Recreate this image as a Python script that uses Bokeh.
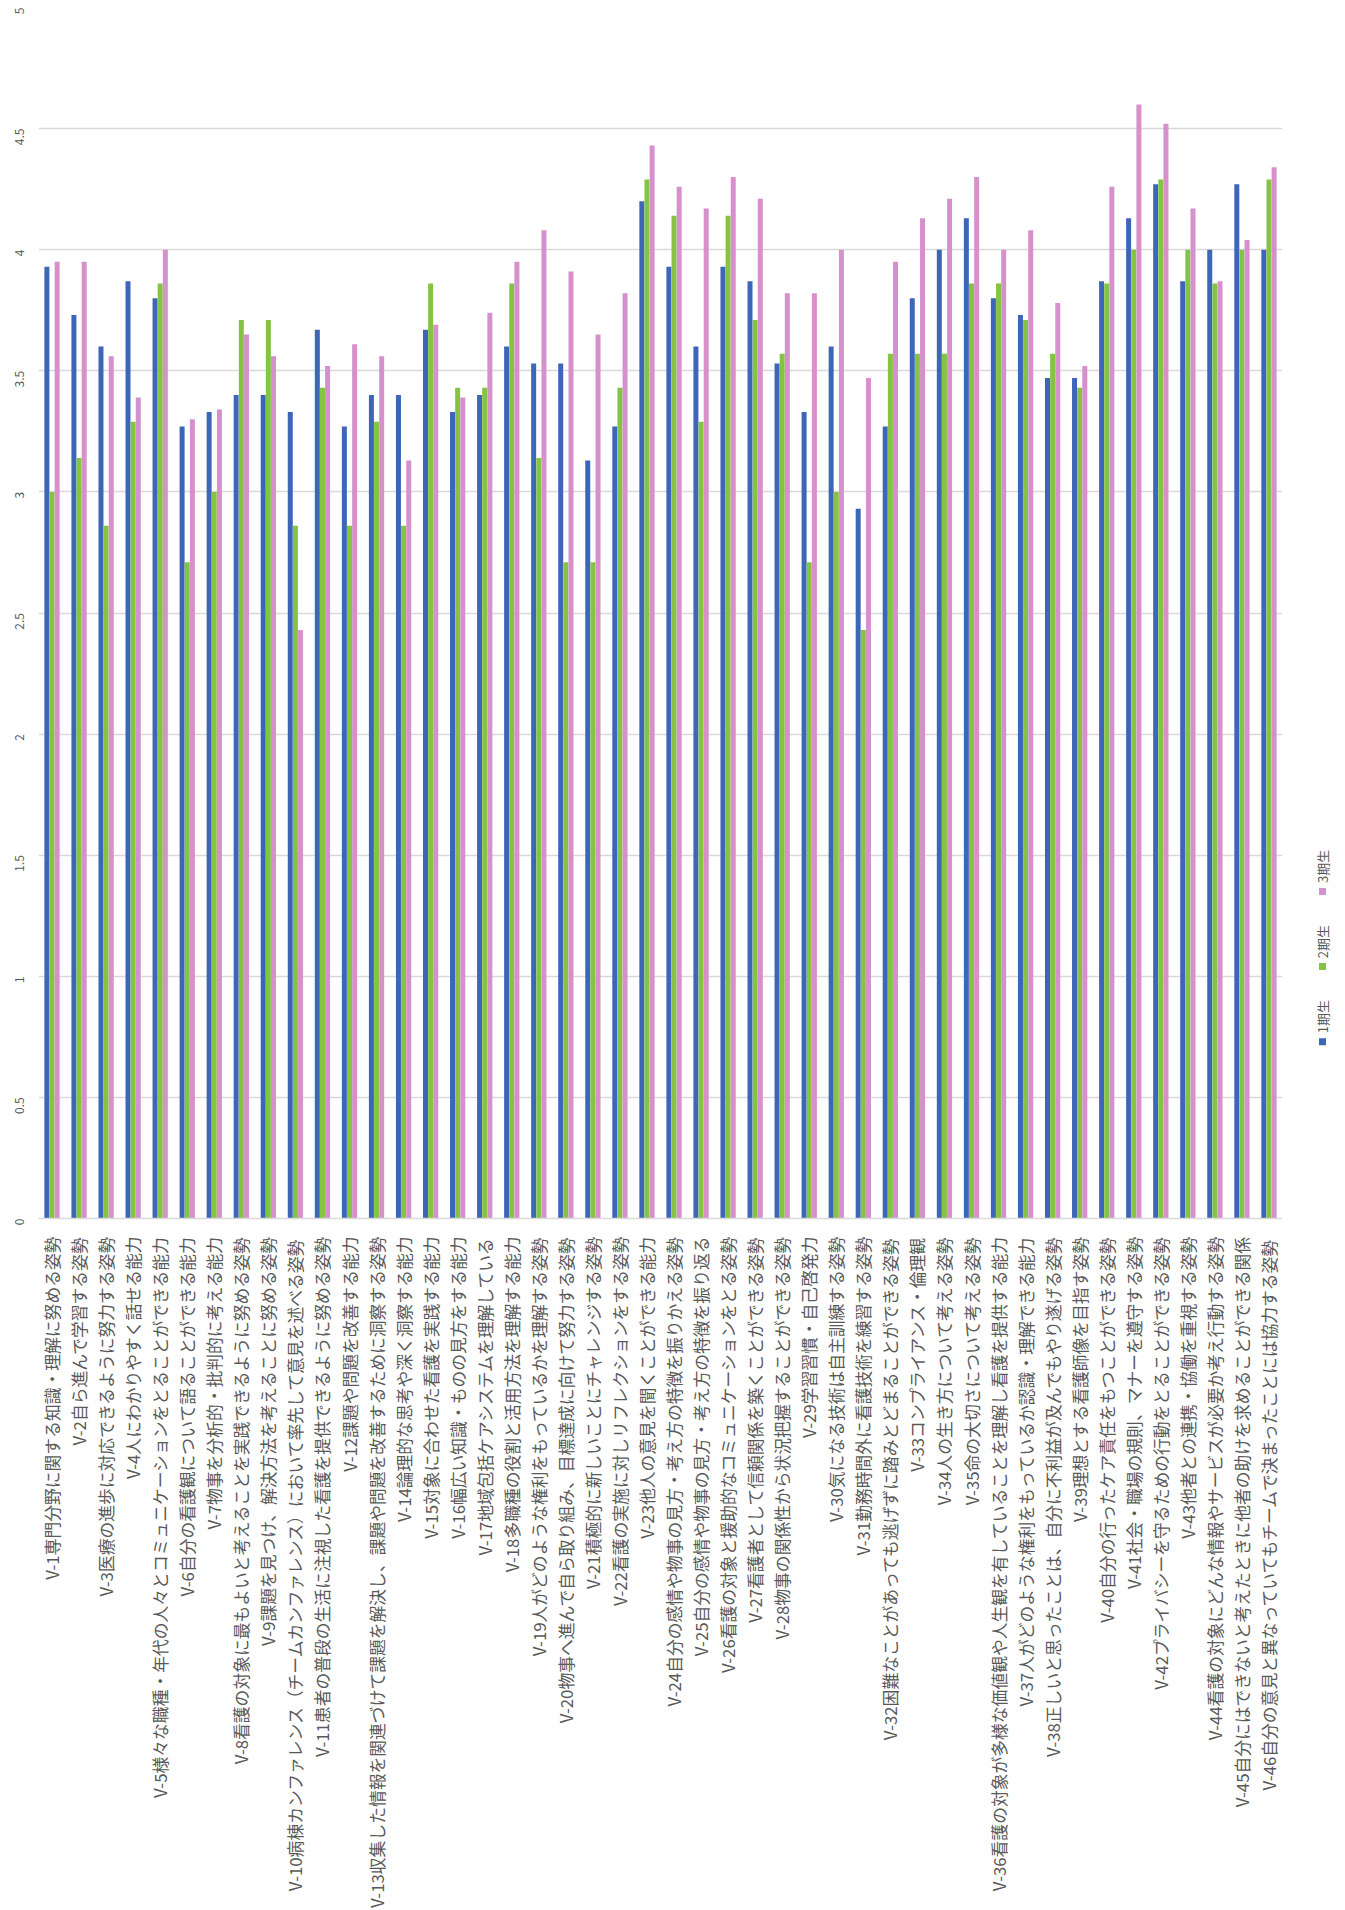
import math
from bokeh.plotting import figure
from bokeh.models import FactorRange, Range1d, FixedTicker, CustomJSTickFormatter, ColumnDataSource
from bokeh.transform import dodge
from bokeh.layouts import row
from bokeh.embed import file_html
from bokeh.resources import INLINE
from bokeh.core.properties import value

categories = [
    "V-1専門分野に関する知識・理解に努める姿勢",
    "V-2自ら進んで学習する姿勢",
    "V-3医療の進歩に対応できるように努力する姿勢",
    "V-4人にわかりやすく話せる能力",
    "V-5様々な職種・年代の人々とコミュニケーションをとることができる能力",
    "V-6自分の看護観について語ることができる能力",
    "V-7物事を分析的・批判的に考える能力",
    "V-8看護の対象に最もよいと考えることを実践できるように努める姿勢",
    "V-9課題を見つけ、解決方法を考えることに努める姿勢",
    "V-10病棟カンファレンス（チームカンファレンス）において率先して意見を述べる姿勢",
    "V-11患者の普段の生活に注視した看護を提供できるように努める姿勢",
    "V-12課題や問題を改善する能力",
    "V-13収集した情報を関連づけて課題を解決し、課題や問題を改善するために洞察する姿勢",
    "V-14論理的な思考や深く洞察する能力",
    "V-15対象に合わせた看護を実践する能力",
    "V-16幅広い知識・ものの見方をする能力",
    "V-17地域包括ケアシステムを理解している",
    "V-18多職種の役割と活用方法を理解する能力",
    "V-19人がどのような権利をもっているかを理解する姿勢",
    "V-20物事へ進んで自ら取り組み、目標達成に向けて努力する姿勢",
    "V-21積極的に新しいことにチャレンジする姿勢",
    "V-22看護の実施に対しリフレクションをする姿勢",
    "V-23他人の意見を聞くことができる能力",
    "V-24自分の感情や物事の見方・考え方の特徴を振りかえる姿勢",
    "V-25自分の感情や物事の見方・考え方の特徴を振り返る",
    "V-26看護の対象と援助的なコミュニケーションをとる姿勢",
    "V-27看護者として信頼関係を築くことができる姿勢",
    "V-28物事の関係性から状況把握することができる姿勢",
    "V-29学習習慣・自己啓発力",
    "V-30気になる技術は自主訓練する姿勢",
    "V-31勤務時間外に看護技術を練習する姿勢",
    "V-32困難なことがあっても逃げずに踏みとどまることができる姿勢",
    "V-33コンプライアンス・倫理観",
    "V-34人の生き方について考える姿勢",
    "V-35命の大切さについて考える姿勢",
    "V-36看護の対象が多様な価値観や人生観を有していることを理解し看護を提供する能力",
    "V-37人がどのような権利をもっているか認識・理解できる能力",
    "V-38正しいと思ったことは、自分に不利益が及んでもやり遂げる姿勢",
    "V-39理想とする看護師像を目指す姿勢",
    "V-40自分の行ったケア責任をもつことができる姿勢",
    "V-41社会・職場の規則、マナーを遵守する姿勢",
    "V-42プライバシーを守るための行動をとることができる姿勢",
    "V-43他者との連携・協働を重視する姿勢",
    "V-44看護の対象にどんな情報やサービスが必要か考え行動する姿勢",
    "V-45自分にはできないと考えたときに他者の助けを求めることができる関係",
    "V-46自分の意見と異なっていてもチームで決まったことには協力する姿勢",
]

gen1 = [3.93, 3.73, 3.60, 3.87, 3.80, 3.27, 3.33, 3.40, 3.40, 3.33,
        3.67, 3.27, 3.40, 3.40, 3.67, 3.33, 3.40, 3.60, 3.53, 3.53,
        3.13, 3.27, 4.20, 3.93, 3.60, 3.93, 3.87, 3.53, 3.33, 3.60,
        2.93, 3.27, 3.80, 4.00, 4.13, 3.80, 3.73, 3.47, 3.47, 3.87,
        4.13, 4.27, 3.87, 4.00, 4.27, 4.00]
gen2 = [3.00, 3.14, 2.86, 3.29, 3.86, 2.71, 3.00, 3.71, 3.71, 2.86,
        3.43, 2.86, 3.29, 2.86, 3.86, 3.43, 3.43, 3.86, 3.14, 2.71,
        2.71, 3.43, 4.29, 4.14, 3.29, 4.14, 3.71, 3.57, 2.71, 3.00,
        2.43, 3.57, 3.57, 3.57, 3.86, 3.86, 3.71, 3.57, 3.43, 3.86,
        4.00, 4.29, 4.00, 3.86, 4.00, 4.29]
gen3 = [3.95, 3.95, 3.56, 3.39, 4.00, 3.30, 3.34, 3.65, 3.56, 2.43,
        3.52, 3.61, 3.56, 3.13, 3.69, 3.39, 3.74, 3.95, 4.08, 3.91,
        3.65, 3.82, 4.43, 4.26, 4.17, 4.30, 4.21, 3.82, 3.82, 4.00,
        3.47, 3.95, 4.13, 4.21, 4.30, 4.00, 4.08, 3.78, 3.52, 4.26,
        4.60, 4.52, 4.17, 3.87, 4.04, 4.34]

series_names = ["1期生", "2期生", "3期生"]
y_ticks = [0, 0.5, 1, 1.5, 2, 2.5, 3, 3.5, 4, 4.5, 5]

colors = ["#3D66B8", "#85C443", "#D690CB"]
W_MAIN = 1282
W_LEG = 55
H = 1910
LEFT = 38
TOP = 7

src = ColumnDataSource(dict(cat=categories, g1=gen1, g2=gen2, g3=gen3))

p = figure(x_range=FactorRange(factors=categories), y_range=Range1d(0, 5),
           width=W_MAIN, height=H, output_backend="svg", toolbar_location=None,
           min_border_left=LEFT, min_border_right=0, min_border_top=TOP, min_border_bottom=0)

offsets = [-0.19, 0.0, 0.19]
for col, off, c in zip(["g1", "g2", "g3"], offsets, colors):
    p.vbar(x=dodge("cat", off, range=p.x_range), top=col, width=0.185, source=src,
           fill_color=c, line_color=None)

p.outline_line_color = None
p.xgrid.grid_line_color = None
p.ygrid.ticker = FixedTicker(ticks=y_ticks)
p.ygrid.grid_line_color = "#D9D9D9"
p.ygrid.grid_line_width = 1.5

xa = p.xaxis[0]
xa.major_label_orientation = math.pi / 2
xa.major_tick_line_color = None
xa.minor_tick_line_color = None
xa.axis_line_color = "#D9D9D9"
xa.axis_line_width = 1.5
xa.major_label_standoff = 12
xa.major_label_text_font = "Noto Sans CJK JP"
xa.major_label_text_font_size = "16.8px"
xa.major_label_text_color = "#595959"

ya = p.yaxis[0]
ya.ticker = FixedTicker(ticks=y_ticks)
ya.formatter = CustomJSTickFormatter(code="return tick.toString();")
ya.major_label_orientation = math.pi / 2
ya.axis_line_color = None
ya.major_tick_line_color = None
ya.minor_tick_line_color = None
ya.major_label_standoff = 13
ya.major_label_text_font = "Noto Sans CJK JP"
ya.major_label_text_font_size = "12px"
ya.major_label_text_color = "#595959"

# legend panel: shares the value range so its frame lines up with the plot frame
lg = figure(width=W_LEG, height=H, x_range=Range1d(0, W_LEG), y_range=p.y_range,
            output_backend="svg", toolbar_location=None,
            x_axis_location=None, y_axis_location=None,
            min_border_left=0, min_border_right=0, min_border_top=TOP, min_border_bottom=0)
lg.outline_line_color = None
lg.grid.visible = False

leg_x = 40
leg_v0 = 0.73
leg_dv = 0.31
sq_v = [leg_v0 + i * leg_dv for i in range(len(series_names))]
tx_v = [v + 0.035 for v in sq_v]
lg.scatter(x=[leg_x] * 3, y=sq_v, marker="square", size=7, color=colors, line_color=None)
lg.text(x=[leg_x] * 3, y=tx_v, text=series_names, angle=math.pi / 2,
        text_align="left", text_baseline="middle",
        text_font=value("Noto Sans CJK JP"), text_font_size="13px", text_color="#595959")

layout = row(p, lg)
open("out.html", "w").write(file_html(layout, INLINE))
